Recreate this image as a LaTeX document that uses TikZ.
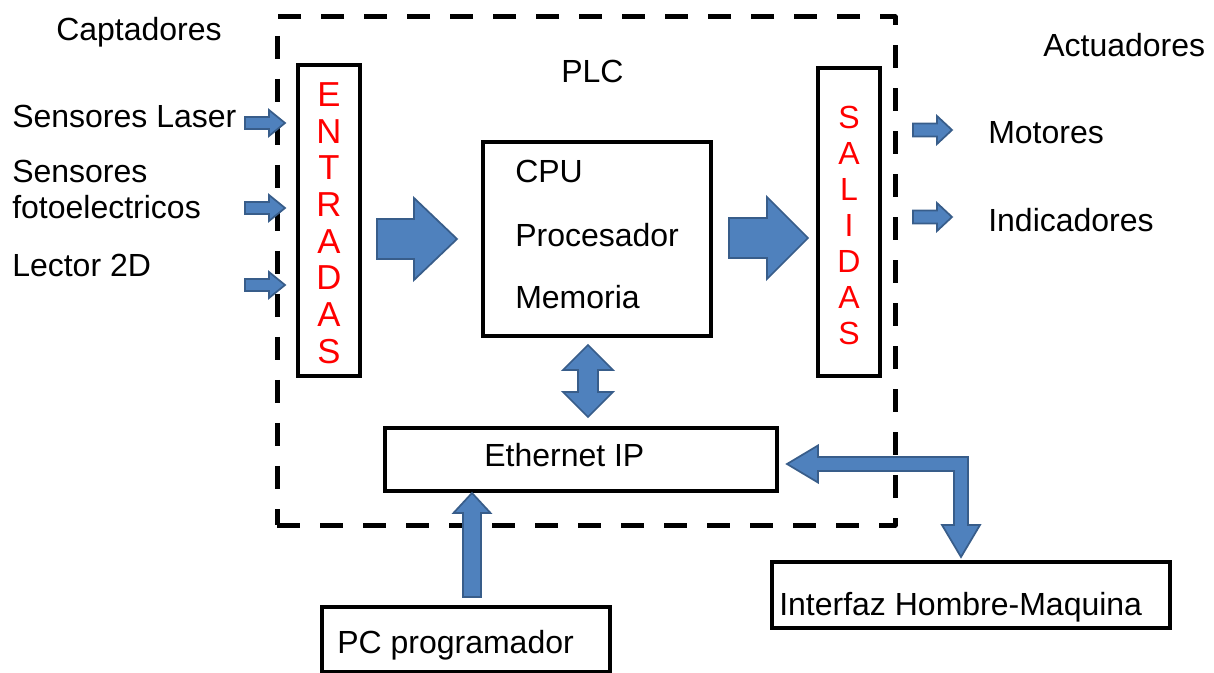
\documentclass[tikz,border=0pt]{standalone}
\usepackage{fontspec}
\setmainfont{Liberation Sans}
\usetikzlibrary{fit}
\definecolor{arrfill}{RGB}{79,129,189}
\definecolor{arrline}{RGB}{56,93,138}
\tikzset{
  lbl/.style={inner sep=0pt, anchor=base west, font=\fontsize{24}{28}\selectfont},
  box/.style={draw=black, line width=3pt, inner sep=0pt},
  thinbox/.style={draw=black, line width=2.4pt, inner sep=0pt},
  plcframe/.style={draw=black, line width=3.75pt, dash pattern=on 17.25pt off 15pt, line join=round},
  blockarrow/.style={fill=arrfill, draw=arrline, line width=1.3pt, line join=miter},
  vletters/.style={inner sep=0pt, text=red, align=center}
}
\newcommand{\blkR}[6]{% tail, headstart, tip, y, shafthalf, headhalf
  \draw[blockarrow] (#1,#4-#5) -- (#2,#4-#5) -- (#2,#4-#6) -- (#3,#4) -- (#2,#4+#6) -- (#2,#4+#5) -- (#1,#4+#5) -- cycle;}
\begin{document}
\begin{tikzpicture}[x=0.75pt,y=-0.75pt]
\useasboundingbox (0,0) rectangle (1214,673);

% PLC frame
\node[plcframe, inner sep=0pt, fit={(277,17) (895,525)}] (plc) {};

% boxes
\node[box, fit={(297.5,65.5) (359.5,376)}] (ent) {};
\node[box, fit={(817.5,68) (880,376)}] (sal) {};
\node[thinbox, fit={(483,142) (711,336)}] (cpu) {};
\node[thinbox, fit={(385,428) (777,491)}] (eth) {};
\node[box, fit={(322,607) (610,672)}] (pc) {};
\node[thinbox, fit={(772,562) (1170,628)}] (hmi) {};

% vertical letters
\node[vletters, font=\fontsize{26}{27.5}\selectfont] (entt) at (329,223) {E\\N\\T\\R\\A\\D\\A\\S};
\node[vletters, font=\fontsize{24}{27}\selectfont] (salt) at (849,225) {S\\A\\L\\I\\D\\A\\S};

% labels
\node[lbl] (capt) at (56,41) {Captadores};
\node[lbl] (act) at (1043,57) {Actuadores};
\node[lbl] (plct) at (561,83) {PLC};
\node[lbl] (s1) at (12,128) {Sensores Laser};
\node[lbl] (s2a) at (12,183) {Sensores};
\node[lbl] (s2b) at (12,219) {fotoelectricos};
\node[lbl] (s3) at (12,277) {Lector 2D};
\node[lbl] (mot) at (988,144) {Motores};
\node[lbl] (ind) at (988,232) {Indicadores};
\node[lbl] (cput) at (515,183) {CPU};
\node[lbl] (proc) at (515,247) {Procesador};
\node[lbl] (mem) at (515,309) {Memoria};
\node[lbl] (etht) at (484,467) {Ethernet IP};
\node[lbl] (pct) at (337,653) {PC programador};
\node[lbl] (hmit) at (779,615) {Interfaz Hombre-Maquina};

% small input arrows
\blkR{245}{269}{285}{123}{6}{13}
\blkR{245}{269}{285}{208}{6}{13}
\blkR{245}{269}{285}{285}{6}{13}
% small output arrows
\blkR{913}{937}{952}{130}{6.5}{14}
\blkR{913}{937}{952}{217}{6.5}{14}
% big arrows
\blkR{377}{414}{457}{239}{20}{41}
\blkR{729}{767}{808}{238}{20}{41}

% CPU <-> Ethernet double arrow
\draw[blockarrow] (588,345) -- (613,370) -- (598,370) -- (598,392) -- (613,392) -- (588,417)
  -- (563,392) -- (578,392) -- (578,370) -- (563,370) -- cycle;

% PC -> Ethernet
\draw[blockarrow] (472,493) -- (490.5,513) -- (481,513) -- (481,597) -- (463,597) -- (463,513) -- (453.5,513) -- cycle;

% Ethernet <-> HMI elbow
\draw[blockarrow] (787,464) -- (818,445.5) -- (818,457) -- (968,457) -- (968,525) -- (980,525)
  -- (961,557) -- (942,525) -- (954,525) -- (954,471) -- (818,471) -- (818,482.5) -- cycle;
\end{tikzpicture}
\end{document}
